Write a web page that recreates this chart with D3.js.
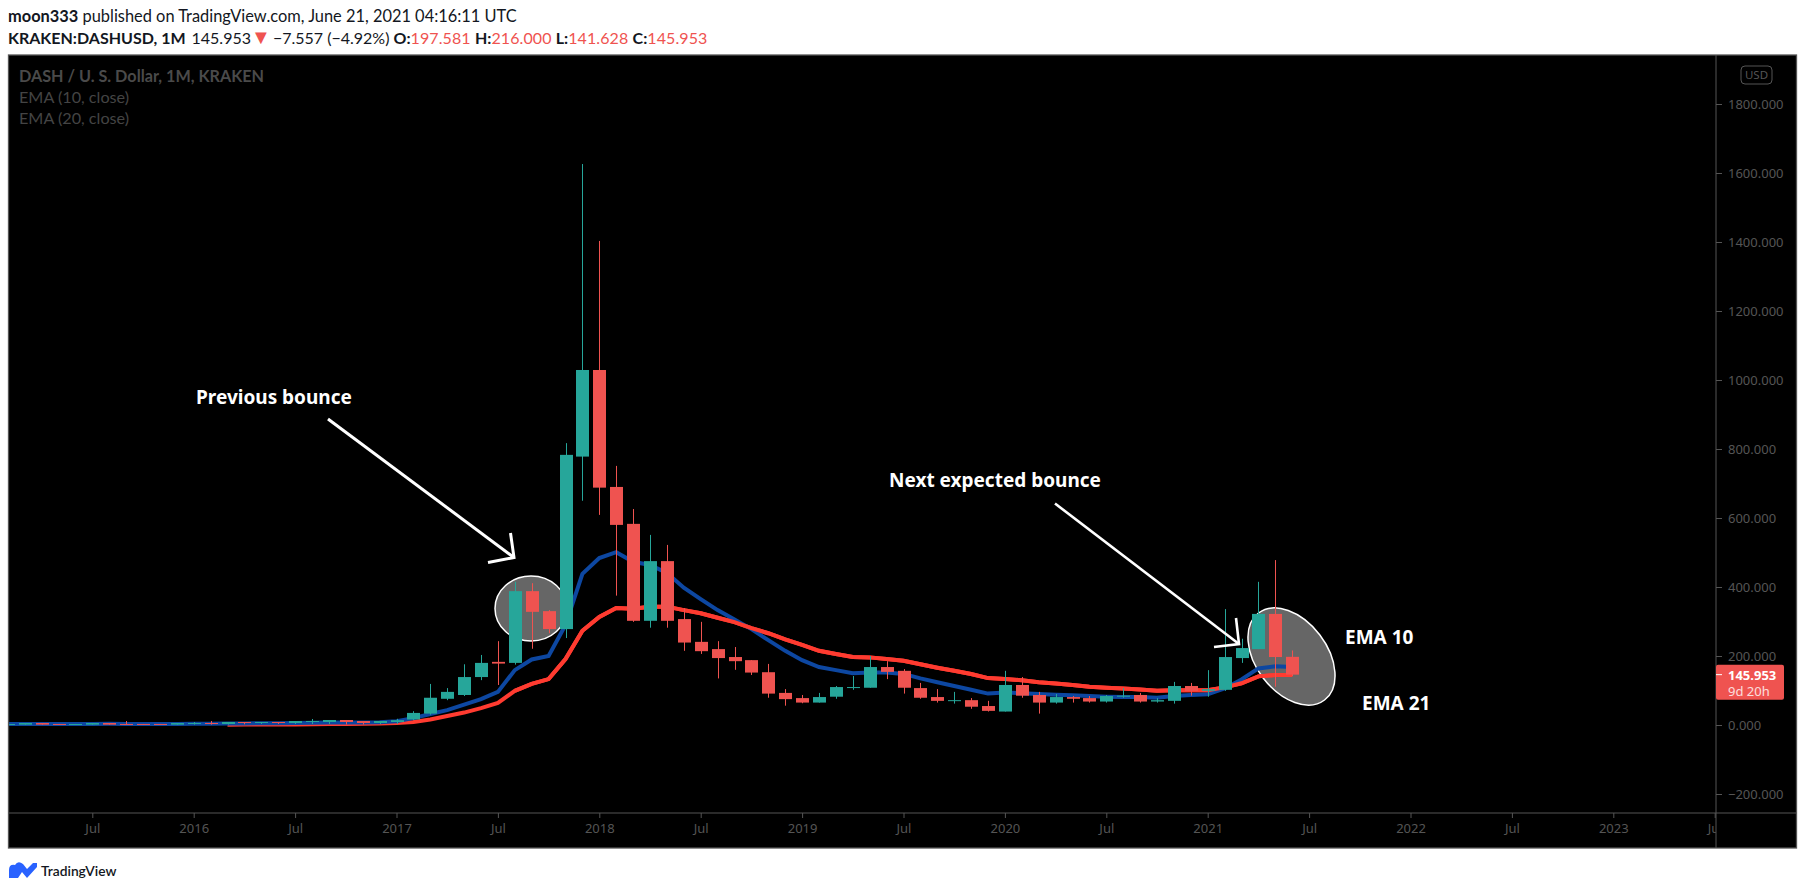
<!DOCTYPE html>
<html>
<head>
<meta charset="utf-8">
<script src="https://d3js.org/d3.v7.min.js"></script>
<style>
  html, body { margin: 0; padding: 0; background: #fff; }
  svg { display: block; }
  .axis path { display: none; }
  .axis line { stroke: #555; }
  .axis text { fill: #555; font-family: "Noto Sans", sans-serif; font-size: 13px; }
</style>
</head>
<body>
<div id="chart"></div>
<script>
// one candle per month, index 0 = Feb 2015, index 76 = Jun 2021
var open = [1, 1, 5.8, 3, 1, 1, 5.8, 3, 3, 3, 1, 2.9, 5.8, 2.9, 8.7, 5.8, 8.7, 5.8, 8.7, 8.7, 14.5, 11.6, 5.8, 8.7,
  16, 33, 76, 87, 139, 183, 180, 388, 330, 278, 778, 1029, 690, 583, 302, 475, 307, 241, 220, 197, 188, 153, 93, 78, 65, 82, 110, 108, 168, 157, 107, 81, 70, 72, 55,
  39, 116, 87, 65, 81, 78, 68, 82, 87, 68, 70, 113, 99, 102, 194, 220, 322, 197.581];
var high = [3, 5, 5.8, 3, 3, 5.8, 5.8, 11.6, 3, 3, 5.8, 8.7, 11.6, 8.7, 8.7, 8.7, 8.7, 11.6, 17.4, 14.5, 14.5, 11.6, 11.6, 18,
  40, 119, 107, 176, 203, 243, 415, 411, 333, 817, 1626, 1403, 751, 626, 551, 522, 339, 299, 243, 226, 188, 177, 104, 87, 93, 113, 142, 200, 185, 162, 122, 104, 96, 78, 70,
  157, 139, 96, 90, 84, 84, 87, 107, 93, 78, 125, 122, 159, 336, 250, 415, 478, 216];
var low = [1, 1, 1, 1, 1, 1, 1, 1, 1, 1, 1, 1, 1, 1, 2, 2.9, 2.9, 2.9, 2.9, 2.9, 1.5, 1.5, 2.9, 2.9,
  14, 30, 72, 84, 130, 116, 175, 221, 266, 252, 650, 609, 375, 299, 282, 282, 215, 206, 135, 160, 145, 79, 56, 63, 65, 76, 102, 108, 133, 91, 76, 65, 62, 47, 39,
  39, 79, 33, 62, 65, 65, 65, 79, 65, 65, 62, 85, 82, 99, 180, 220, 111, 141.628];
var close = [2.9, 5.8, 1, 1, 2.9, 5.8, 1, 1, 1, 1, 5.8, 5.8, 2.9, 8.7, 5.8, 8.7, 5.8, 11.6, 11.6, 14.5, 8.7, 5.8, 11.6, 14,
  35, 79, 96, 139, 180, 178, 388, 328, 278, 783, 1029, 688, 580, 302, 475, 302, 239, 214, 194, 185, 152, 91, 75, 65, 81, 110, 110, 168, 154, 108, 79, 70, 72, 53, 41,
  116, 85, 65, 81, 76, 68, 84, 85, 68, 72, 113, 99, 104, 197, 223, 322, 197, 145.953];

var ema10 = [2.9, 3, 3, 3, 3, 3.2, 3.3, 3.2, 3, 3, 3.2, 3.5, 3.8, 4.3, 4.6, 5, 5.2, 5.8, 6.3, 7, 7.3, 7.5, 7.8, 11,
  20, 32, 43, 59, 75, 96, 159, 190, 200, 290, 438, 484, 501, 473, 464, 441, 398, 365, 333, 306, 278, 246, 215, 188, 168, 159, 150, 152, 152, 148, 135, 124, 113, 102, 91,
  94, 92, 90, 88, 86, 84, 82, 81, 81, 79, 84, 87, 89, 106, 132, 164, 170, 168];
var ema21 = [null, null, null, null, null, null, null, null, null, null, null, null, null, 1, 1.2, 1.4, 1.5, 1.8, 2.2, 2.6, 3, 3.4, 4, 5.5,
  9, 16, 26, 36, 49, 64, 99, 119, 133, 191, 273, 313, 339, 337, 343, 343, 333, 324, 311, 298, 281, 266, 248, 232, 215, 206, 197, 196, 191, 186, 176, 166, 157, 148, 136,
  133, 130, 124, 120, 116, 111, 108, 106, 103, 99, 101, 101, 101, 109, 121, 141, 145, 145];

var priceTicks = [-200, 0, 200, 400, 600, 800, 1000, 1200, 1400, 1600, 1800];
var timeTicks = [5, 11, 17, 23, 29, 35, 41, 47, 53, 59, 65, 71, 77, 83, 89, 95, 101];
var timeLabels = ["Jul", "2016", "Jul", "2017", "Jul", "2018", "Jul", "2019", "Jul", "2020", "Jul", "2021", "Jul", "2022", "Jul", "2023", "Jul"];

var lastPrice = 145.953;
var up = "#26a69a", down = "#ef5350";

var width = 1805, height = 895;
var paneL = 8.5, paneR = 1716, paneT = 55, paneB = 813, outerR = 1796.5, outerB = 848;

var svg = d3.select("#chart").append("svg")
  .attr("width", width)
  .attr("height", height);

var x = d3.scaleLinear().domain([0, 101]).range([7.8, 1714.7]);
var y = d3.scaleLinear().domain([-200, 1800]).range([794, 104]);

svg.append("defs").append("clipPath").attr("id", "pane")
  .append("rect").attr("x", paneL).attr("y", paneT).attr("width", paneR - paneL).attr("height", paneB - paneT);
svg.select("defs").append("clipPath").attr("id", "timeclip")
  .append("rect").attr("x", paneL).attr("y", paneB).attr("width", paneR - paneL).attr("height", outerB - paneB);

// background
svg.append("rect")
  .attr("x", paneL).attr("y", paneT)
  .attr("width", outerR - paneL).attr("height", outerB - paneT)
  .attr("fill", "#000");

// header lines
var head1 = svg.append("text").attr("x", 8).attr("y", 22)
  .style("font-family", "Lato, sans-serif").style("font-size", "16.4px").style("fill", "#131722");
head1.append("tspan").style("font-weight", "bold").text("moon333");
head1.append("tspan").text(" published on TradingView.com, June 21, 2021 04:16:11 UTC");

var head2 = svg.append("text").attr("x", 8).attr("y", 44)
  .style("font-family", "Lato, sans-serif").style("font-size", "16px").style("fill", "#131722");
head2.append("tspan").style("font-weight", "bold").text("KRAKEN:DASHUSD, 1M");
head2.append("tspan").attr("dx", 6).text("145.953");
head2.append("tspan").style("fill", down).style("font-size", "20px").text("\u25BC");
head2.append("tspan").attr("dx", -2).text(" \u22127.557 (\u22124.92%) ");
[["O:", "197.581"], ["H:", "216.000"], ["L:", "141.628"], ["C:", "145.953"]].forEach(function (d) {
  head2.append("tspan").style("font-weight", "bold").text(d[0]);
  head2.append("tspan").style("fill", down).style("letter-spacing", "0.1px").text(d[1] + " ");
});

// legend in the pane
var legend = svg.append("g").style("font-family", "Lato, sans-serif").style("font-size", "16.2px");
legend.append("text").attr("x", 19).attr("y", 82).style("font-weight", "bold").style("fill", "#4a4a4a").text("DASH / U. S. Dollar, 1M, KRAKEN");
legend.append("text").attr("x", 19).attr("y", 103).style("fill", "#444").text("EMA (10, close)");
legend.append("text").attr("x", 19).attr("y", 124).style("fill", "#444").text("EMA (20, close)");

var plot = svg.append("g").attr("clip-path", "url(#pane)");

// hand drawn ellipses sit under the candles
plot.append("ellipse")
  .attr("cx", 531).attr("cy", 608.5).attr("rx", 36).attr("ry", 32.5)
  .attr("fill", "#666").attr("stroke", "#fff").attr("stroke-width", 1.5);
plot.append("ellipse")
  .attr("transform", "translate(1291.5,656.5) rotate(52.8)")
  .attr("rx", 54.6).attr("ry", 35.6)
  .attr("fill", "#666").attr("stroke", "#fff").attr("stroke-width", 1.5);

var line = d3.line()
  .defined(function (d) { return d !== null; })
  .x(function (d, i) { return x(i); })
  .y(function (d) { return y(d); });

// the flat start of the red line stays under the blue one, the rest goes on top
var lineLate = d3.line()
  .defined(function (d, i) { return i >= 30; })
  .x(function (d, i) { return x(i); })
  .y(function (d) { return y(d); });

plot.append("path").datum(ema21)
  .attr("d", line).attr("fill", "none").attr("stroke", "#ff3b30").attr("stroke-width", 4);
plot.append("path").datum(ema10)
  .attr("d", line).attr("fill", "none").attr("stroke", "#0d47a1").attr("stroke-width", 4);
plot.append("path").datum(ema21)
  .attr("d", lineLate).attr("fill", "none").attr("stroke", "#ff3b30").attr("stroke-width", 4);

// candles
var candles = plot.selectAll(".candle")
  .data(open.map(function (d, i) { return i; }))
  .enter().append("g").attr("class", "candle");

candles.append("line")
  .attr("x1", function (i) { return Math.round(x(i)) + 0.5; })
  .attr("x2", function (i) { return Math.round(x(i)) + 0.5; })
  .attr("y1", function (i) { return y(high[i]); })
  .attr("y2", function (i) { return y(low[i]); })
  .attr("stroke", function (i) { return close[i] >= open[i] ? up : down; })
  .attr("stroke-width", 1);

candles.append("rect")
  .attr("x", function (i) { return Math.round(x(i)) - 6; })
  .attr("width", 13)
  .attr("y", function (i) { return y(Math.max(open[i], close[i])); })
  .attr("height", function (i) { return Math.max(1, Math.abs(y(open[i]) - y(close[i]))); })
  .attr("fill", function (i) { return close[i] >= open[i] ? up : down; });

// arrows
function stroke(pts, w) {
  svg.append("path")
    .attr("d", d3.line()(pts))
    .attr("fill", "none").attr("stroke", "#fff").attr("stroke-width", w);
}
stroke([[328, 419], [514, 557.5]], 3);
stroke([[510.5, 533], [514, 557.5], [488, 562.5]], 3);
stroke([[1055, 503.5], [1239, 644]], 2.6);
stroke([[1236, 618], [1239, 644], [1214, 647]], 2.6);

// annotations
var notes = [["Previous bounce", 196, 404], ["Next expected bounce", 889, 487], ["EMA 10", 1345, 644], ["EMA 21", 1362, 710]];
svg.selectAll(".note").data(notes).enter().append("text")
  .attr("class", "note")
  .attr("x", function (d) { return d[1]; })
  .attr("y", function (d) { return d[2]; })
  .text(function (d) { return d[0]; })
  .style("font-family", "'Noto Sans', sans-serif")
  .style("font-weight", "bold")
  .style("font-size", "19px")
  .style("fill", "#fff");

// axes
var yAxis = svg.append("g").attr("class", "axis")
  .attr("transform", "translate(" + paneR + ",0)")
  .call(d3.axisRight(y).tickValues(priceTicks).tickSize(6).tickPadding(6)
    .tickFormat(function (d) { return (d < 0 ? "\u2212" : "") + d3.format(".3f")(Math.abs(d)); }));

var xAxis = svg.append("g").attr("class", "axis")
  .attr("clip-path", "url(#timeclip)")
  .append("g")
  .attr("transform", "translate(0," + paneB + ")")
  .call(d3.axisBottom(x).tickValues(timeTicks).tickSize(5).tickPadding(6)
    .tickFormat(function (d, i) { return timeLabels[i]; }));

// frame
svg.append("rect")
  .attr("x", paneL).attr("y", paneT)
  .attr("width", outerR - paneL).attr("height", outerB - paneT)
  .attr("fill", "none").attr("stroke", "#555").attr("stroke-width", 1.3);
svg.append("line").attr("x1", paneR).attr("x2", paneR).attr("y1", paneT).attr("y2", outerB)
  .attr("stroke", "#555");
svg.append("line").attr("x1", paneL).attr("x2", outerR).attr("y1", paneB).attr("y2", paneB)
  .attr("stroke", "#555");

// last price tag
var tag = svg.append("g");
tag.append("rect")
  .attr("x", paneR).attr("y", y(lastPrice) - 10)
  .attr("width", 68).attr("height", 35).attr("rx", 2)
  .attr("fill", down);
tag.append("line")
  .attr("x1", paneR).attr("x2", paneR + 6)
  .attr("y1", y(lastPrice)).attr("y2", y(lastPrice))
  .attr("stroke", "#fff");
tag.append("text").attr("x", 1728).attr("y", y(lastPrice) + 5)
  .style("font-family", "'Noto Sans', sans-serif").style("font-size", "13px").style("font-weight", "bold")
  .style("fill", "#fff").text(d3.format(".3f")(lastPrice));
tag.append("text").attr("x", 1728).attr("y", y(lastPrice) + 21)
  .style("font-family", "'Noto Sans', sans-serif").style("font-size", "13px")
  .style("fill", "#fff").style("opacity", 0.8).text("9d 20h");

// currency button
svg.append("rect")
  .attr("x", 1741).attr("y", 66).attr("width", 31).attr("height", 18).attr("rx", 4)
  .attr("fill", "none").attr("stroke", "#555");
svg.append("text").attr("x", 1756.5).attr("y", 79).attr("text-anchor", "middle")
  .style("font-family", "'Noto Sans', sans-serif").style("font-size", "11.5px").style("fill", "#555").text("USD");

// footer logo
svg.append("path")
  .attr("d", "M9 878 L9 870 Q9 864 15 865 Q18 860 23 864 L27 869 L33 863 L37 863 L37 867 L27 878 L22 872 L18 878 Z")
  .attr("fill", "#2962ff");
svg.append("text").attr("x", 41).attr("y", 876)
  .style("font-family", "Lato, sans-serif").style("font-size", "13.8px").style("font-weight", "600")
  .style("fill", "#131722").text("TradingView");
</script>
</body>
</html>
